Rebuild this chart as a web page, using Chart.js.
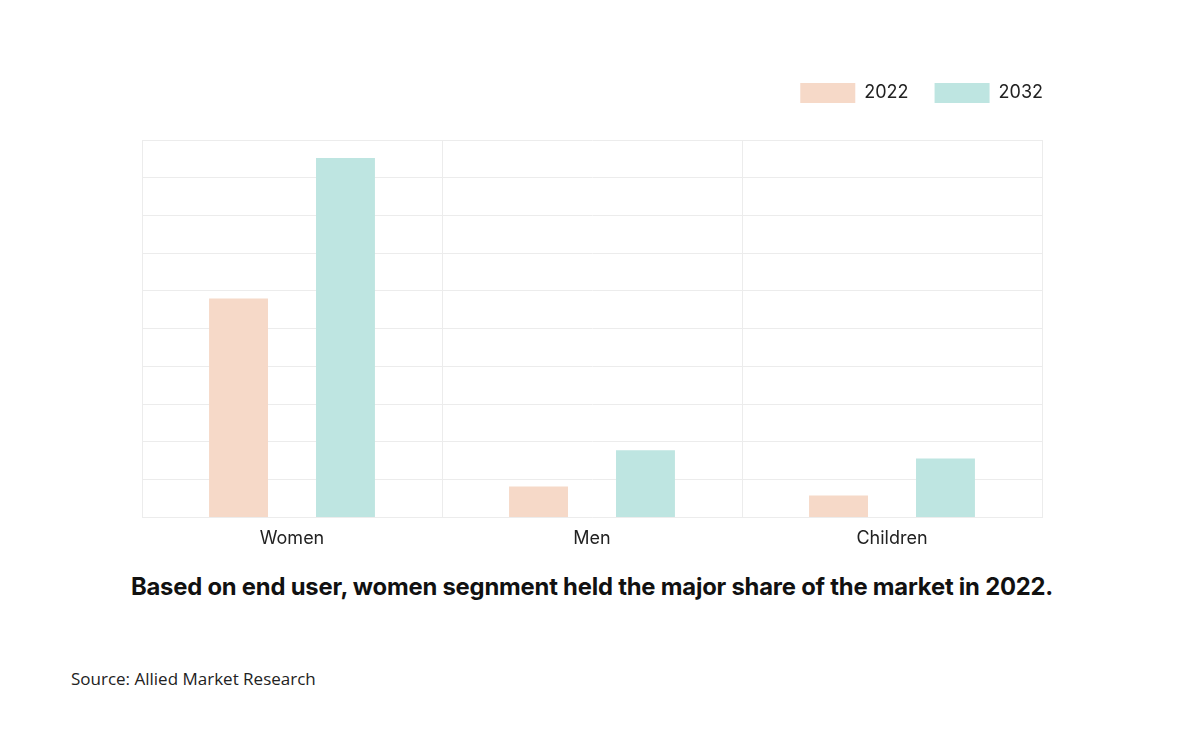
<!DOCTYPE html>
<html>
<head>
<meta charset="utf-8">
<script src="https://cdn.jsdelivr.net/npm/chart.js@4"></script>
<style>
  body { margin: 0; background: #fff; width: 1184px; height: 733px; position: relative; overflow: hidden; }
  #wrap { position: absolute; left: 0; top: 0; width: 1184px; height: 571px; }
  #caption { position: absolute; left: 0; width: 1184px; top: 572px; text-align: center;
    font-family: Inter, sans-serif; font-weight: 700; font-size: 23.8px; color: #111; letter-spacing: -0.2px; }
  #source { position: absolute; left: 71px; top: 667px; font-family: "Open Sans", sans-serif;
    font-size: 17px; color: #222; }
</style>
</head>
<body>
<div id="wrap"><canvas id="myChart"></canvas></div>
<div id="caption">Based on end user, women segnment held the major share of the market in 2022.</div>
<div id="source">Source: Allied Market Research</div>
<script>
var categories = ['Women', 'Men', 'Children'];
var values2022 = [5.8, 0.82, 0.58];
var values2032 = [9.52, 1.78, 1.56];

// space under the legend, and push it to the right edge of the plot
var legendTweak = {
    id: 'legendTweak',
    beforeInit: function (chart) {
        var fit = chart.legend.fit;
        chart.legend.fit = function () {
            fit.bind(chart.legend)();
            this.height += 27;
        };
    },
    afterLayout: function (chart) {
        chart.legend.left += 27;
        chart.legend.right += 27;
    }
};

var ctx = document.getElementById('myChart').getContext('2d');
var chart = new Chart(ctx, {
    type: 'bar',
    data: {
        labels: categories,
        datasets: [{
            label: '2022',
            backgroundColor: '#f6d9c8',
            data: values2022
        }, {
            label: '2032',
            backgroundColor: '#bee5e1',
            data: values2032
        }]
    },
    options: {
        responsive: true,
        maintainAspectRatio: false,
        animation: false,
        categoryPercentage: 0.713,
        barPercentage: 0.551,
        layout: { padding: { left: 142, right: 142, top: 57, bottom: 12 } },
        plugins: {
            legend: {
                align: 'end',
                labels: {
                    boxWidth: 55,
                    boxHeight: 20,
                    padding: 26,
                    color: '#222',
                    font: { family: 'Inter', size: 18 }
                }
            },
            tooltip: { enabled: false }
        },
        scales: {
            x: {
                grid: { color: '#ececec', drawTicks: false },
                border: { color: '#ececec' },
                ticks: { padding: 10, color: '#222', font: { family: 'Inter', size: 18 } }
            },
            y: {
                min: 0,
                max: 10,
                ticks: { stepSize: 1, display: false },
                grid: { color: '#ececec', drawTicks: false },
                border: { color: '#ececec' }
            }
        }
    },
    plugins: [legendTweak]
});
</script>
</body>
</html>
